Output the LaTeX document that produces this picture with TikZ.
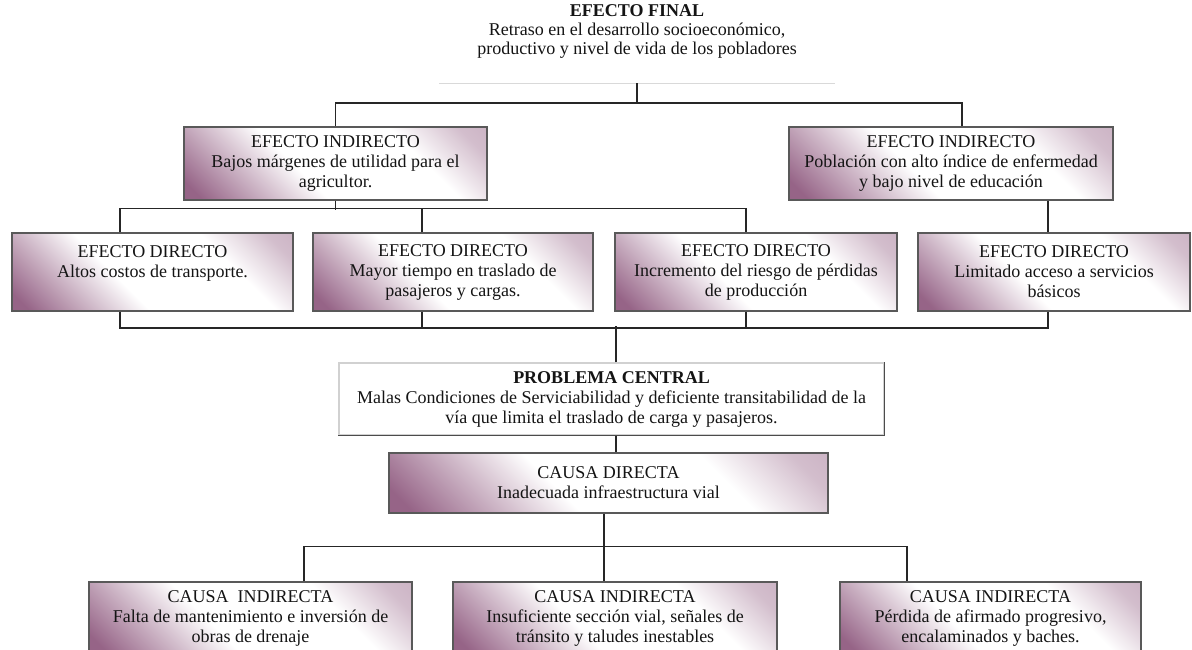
\documentclass[tikz,border=0pt]{standalone}
\usepackage{fontspec}
\setmainfont{Liberation Serif}
\definecolor{mauve}{RGB}{150,100,135}
\pgfdeclareverticalshading{boxshade}{100bp}{color(0bp)=(mauve); color(18bp)=(mauve); color(32bp)=(mauve!42); color(42bp)=(white); color(67bp)=(white); color(80bp)=(mauve!42); color(100bp)=(mauve!65)}
\tikzset{
  box/.style={draw=black!65, line width=0.6pt, shade, shading=boxshade, shading angle=-45,
    inner sep=0pt, align=center, font=\fontsize{9}{10}\selectfont, text=black!92},
  plain/.style={inner sep=0pt, align=center, font=\fontsize{9}{9.5}\selectfont, text=black!92},
  conn/.style={draw=black!85, line width=0.9pt},
}
\begin{document}
\begin{tikzpicture}[x=0.5pt,y=-0.5pt]
\fill[white] (0,0) rectangle (1192,649);
\useasboundingbox (0,0) rectangle (1192,649);
\clip (0,0) rectangle (1192,649);

% nodes
\node[plain, minimum width=197.5pt, minimum height=52pt] (ef) at (637,31)
  {\textbf{EFECTO FINAL}\\Retraso en el desarrollo socioeconómico,\\productivo y nivel de vida de los pobladores};

\node[box, minimum width=151.5pt, minimum height=36.5pt] (eil) at (335.5,163.5)
  {EFECTO INDIRECTO\\Bajos márgenes de utilidad para el\\agricultor.};
\node[box, minimum width=162pt, minimum height=36.5pt] (eir) at (951,163.5)
  {EFECTO INDIRECTO\\Población con alto índice de enfermedad\\y bajo nivel de educación};

\node[box, minimum width=140.5pt, minimum height=39pt] (ed1) at (152.5,272)
  {EFECTO DIRECTO\\Altos costos de transporte.\\\mbox{}};
\node[box, minimum width=140pt, minimum height=39pt] (ed2) at (453,272)
  {EFECTO DIRECTO\\Mayor tiempo en traslado de\\pasajeros y cargas.};
\node[box, minimum width=141pt, minimum height=39pt] (ed3) at (756,272)
  {EFECTO DIRECTO\\Incremento del riesgo de pérdidas\\de producción};
\node[box, minimum width=136pt, minimum height=39pt] (ed4) at (1054,272)
  {EFECTO DIRECTO\\Limitado acceso a servicios\\básicos};

\node[plain, fill=white, draw=black!18, line width=0.6pt, font=\fontsize{9}{10}\selectfont, minimum width=272.5pt, minimum height=36pt] (pc) at (611.5,399)
  {\textbf{PROBLEMA CENTRAL}\\Malas Condiciones de Serviciabilidad y deficiente transitabilidad de la\\vía que limita el traslado de carga y pasajeros.};

\node[box, minimum width=219.5pt, minimum height=30pt] (cd) at (608.5,483)
  {CAUSA DIRECTA\\Inadecuada infraestructura vial};

\node[box, minimum width=161.5pt, minimum height=36pt] (ci1) at (250.5,618)
  {CAUSA\enspace INDIRECTA\\Falta de mantenimiento e inversión de\\obras de drenaje};
\node[box, minimum width=162pt, minimum height=36pt] (ci2) at (615,618)
  {CAUSA INDIRECTA\\Insuficiente sección vial, señales de\\tránsito y taludes inestables};
\node[box, minimum width=150.5pt, minimum height=36pt] (ci3) at (990.5,618)
  {CAUSA INDIRECTA\\Pérdida de afirmado progresivo,\\encalaminados y baches.};

% box edge accents
\draw[black!15, line width=0.6pt] (ef.south west) -- (ef.south east);
\draw[black!70, line width=0.7pt] (pc.north east) -- (pc.south east) -- (pc.south west);

% connectors
\coordinate (j1) at (637,103);
\draw[conn] (ef.south) -- (j1);
\draw[conn] (eil.north) |- (j1) -| ([xshift=5.5pt]eir.north);

\draw[conn] (eil.south) -- ++(0,9);
\draw[conn] ([xshift=-16.25pt]ed1.north) -- ++(0,-24) -| ([xshift=-5pt]ed3.north);
\draw[conn] ([xshift=-15.5pt]ed2.north) -- ++(0,-24);
\draw[conn] ([xshift=48.5pt]eir.south) -- ([xshift=-3pt]ed4.north);

\draw[conn] ([xshift=-16.25pt]ed1.south) -- ++(0,16) -| ([xshift=-3pt]ed4.south);
\draw[conn] ([xshift=-15.5pt]ed2.south) -- ++(0,16);
\draw[conn] ([xshift=-5pt]ed3.south) -- ++(0,16);

\draw[conn] ([xshift=2.25pt]pc.north) -- ++(0,-36);
\draw[conn] ([xshift=2.25pt]pc.south) -- ([xshift=3.75pt]cd.north);

\draw[conn] ([xshift=-2.25pt]cd.south) -- ([xshift=-5.5pt]ci2.north);
\draw[conn] ([xshift=26.75pt]ci1.north) -- ++(0,-35) -| ([xshift=-41.75pt]ci3.north);
\end{tikzpicture}
\end{document}
